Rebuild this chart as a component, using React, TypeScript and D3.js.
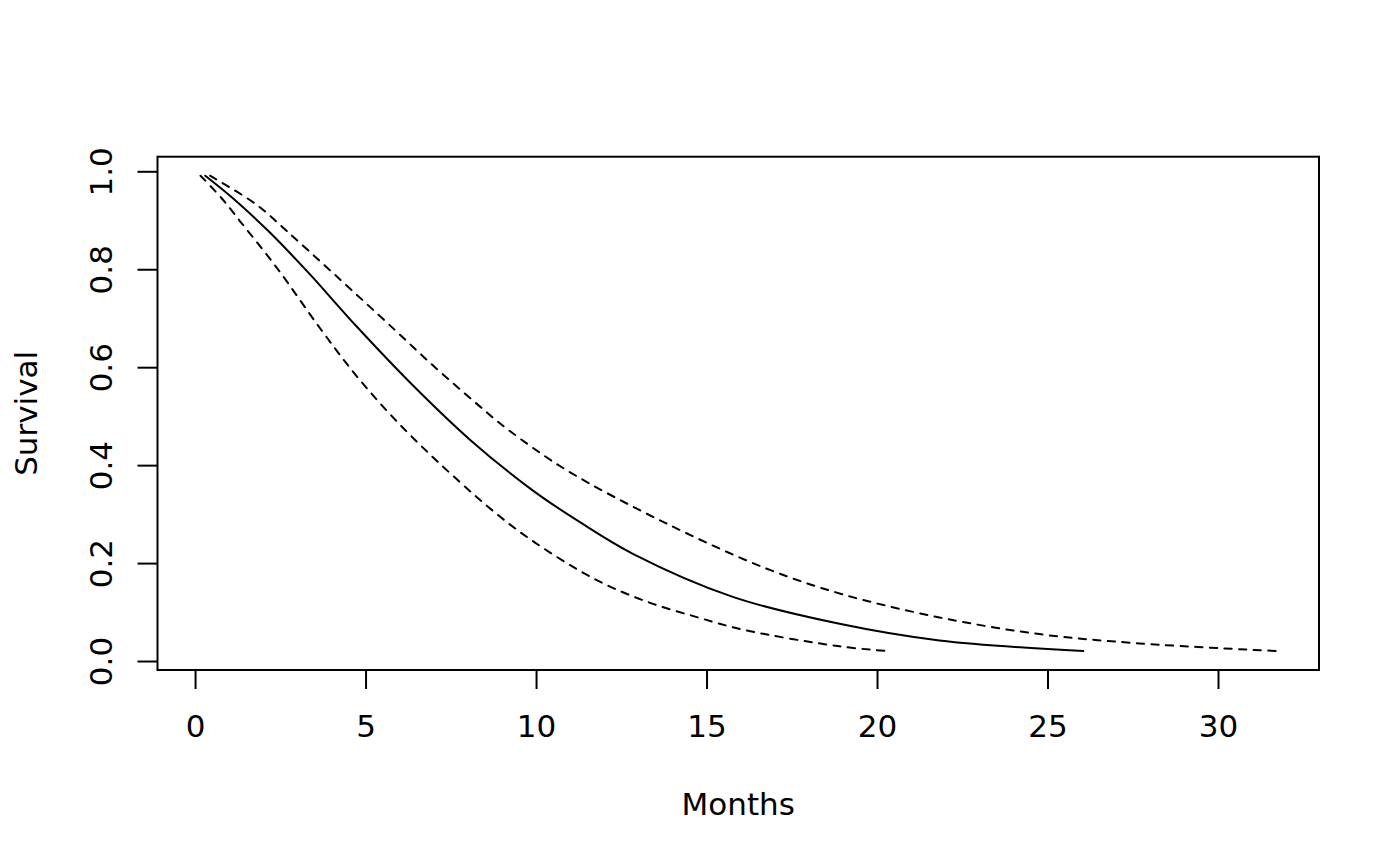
import { useEffect, useRef } from "react"
import * as d3 from "d3"

// fitted curve (solid)
const fitMonths = [0.3, 1.11, 2.15, 3.31, 4.74, 6.4, 8.06, 9.91, 11.3, 12.84, 15.77, 18.9, 21.83, 26.05]
const fitSurv = [0.991, 0.945, 0.878, 0.794, 0.683, 0.562, 0.452, 0.348, 0.283, 0.219, 0.131, 0.076, 0.042, 0.0205]

// upper confidence band (dashed, right)
const upperMonths = [0.44, 1.8, 2.69, 4.05, 5.86, 6.89, 8.35, 9.17, 10.89, 13.82, 16.75, 19.0, 21.83, 24.76, 27.69, 31.7]
const upperSurv = [0.991, 0.932, 0.878, 0.792, 0.676, 0.609, 0.52, 0.473, 0.39, 0.281, 0.189, 0.136, 0.089, 0.055, 0.036, 0.0205]

// lower confidence band (dashed, left)
const lowerMonths = [0.16, 0.78, 1.32, 2.43, 3.66, 4.83, 6.4, 8.94, 10.4, 11.87, 13.3, 14.8, 16.07, 18.9, 20.31]
const lowerSurv = [0.991, 0.945, 0.898, 0.8, 0.68, 0.574, 0.455, 0.295, 0.222, 0.162, 0.12, 0.088, 0.064, 0.03, 0.0205]

const xTicks = [0, 5, 10, 15, 20, 25, 30]
const yTicks = [0, 0.2, 0.4, 0.6, 0.8, 1.0]

const xLabel = "Months"
const yLabel = "Survival"

export default function App() {
  const svgRef = useRef<SVGSVGElement>(null)

  useEffect(() => {
    if (!svgRef.current) return
    const W = 1400
    const H = 866
    const box = { left: 157.5, right: 1319, top: 156.7, bottom: 670 }
    const font = "'DejaVu Sans', sans-serif"
    const fontSize = 31

    const svg = d3.select(svgRef.current)
    svg.selectAll("*").remove()
    svg.attr("width", W).attr("height", H)

    const allX = [...fitMonths, ...upperMonths, ...lowerMonths]
    const allY = [...fitSurv, ...upperSurv, ...lowerSurv]
    // R style 4% axis extension
    const pad = (e: [number, number]) => {
      const r = (e[1] - e[0]) * 0.04
      return [e[0] - r, e[1] + r]
    }
    const x = d3.scaleLinear().domain(pad(d3.extent(allX) as [number, number])).range([box.left, box.right])
    const y = d3.scaleLinear().domain(pad(d3.extent(allY) as [number, number])).range([box.bottom, box.top])

    svg.append("rect").attr("width", W).attr("height", H).attr("fill", "#fff")

    const line = d3
      .line<[number, number]>()
      .x((d) => x(d[0]))
      .y((d) => y(d[1]))
      .curve(d3.curveCatmullRom.alpha(0.5))

    const series = [
      { months: lowerMonths, surv: lowerSurv, dash: "7.3 7.3" },
      { months: upperMonths, surv: upperSurv, dash: "7.3 7.3" },
      { months: fitMonths, surv: fitSurv, dash: null },
    ]
    series.forEach((s) => {
      svg
        .append("path")
        .attr("d", line(s.months.map((m, i) => [m, s.surv[i]] as [number, number])))
        .attr("fill", "none")
        .attr("stroke", "#000")
        .attr("stroke-width", 2)
        .attr("stroke-linecap", "round")
        .attr("stroke-dasharray", s.dash)
    })

    // plot box
    svg
      .append("rect")
      .attr("x", box.left)
      .attr("y", box.top)
      .attr("width", box.right - box.left)
      .attr("height", box.bottom - box.top)
      .attr("fill", "none")
      .attr("stroke", "#000")
      .attr("stroke-width", 2)

    // x axis
    const gx = svg
      .append("g")
      .attr("transform", `translate(0,${box.bottom})`)
      .call(d3.axisBottom(x).tickValues(xTicks).tickSize(19).tickSizeOuter(0).tickFormat(d3.format("d")))
    gx.select(".domain").remove()
    gx.attr("font-family", font).attr("font-size", fontSize)
    gx.selectAll("line").attr("stroke", "#000").attr("stroke-width", 2)
    gx.selectAll("text").attr("y", 67).attr("dy", null).attr("fill", "#000")

    // y axis
    const gy = svg
      .append("g")
      .attr("transform", `translate(${box.left},0)`)
      .call(d3.axisLeft(y).tickValues(yTicks).tickSize(20).tickSizeOuter(0).tickFormat(d3.format(".1f")))
    gy.select(".domain").remove()
    gy.attr("font-family", font).attr("font-size", fontSize)
    gy.selectAll("line").attr("stroke", "#000").attr("stroke-width", 2)
    gy.selectAll("text")
      .attr("x", null)
      .attr("dy", null)
      .attr("fill", "#000")
      .attr("text-anchor", "middle")
      .attr("transform", `translate(${111.5 - box.left},0) rotate(-90)`)

    // axis titles
    svg
      .append("text")
      .attr("x", (box.left + box.right) / 2)
      .attr("y", 815)
      .attr("text-anchor", "middle")
      .attr("font-family", font)
      .attr("font-size", fontSize)
      .text(xLabel)

    svg
      .append("text")
      .attr("transform", `translate(37,${(box.top + box.bottom) / 2}) rotate(-90)`)
      .attr("text-anchor", "middle")
      .attr("font-family", font)
      .attr("font-size", fontSize)
      .text(yLabel)
  }, [])

  return (
    <div style={{ position: "absolute", left: 0, top: 0 }}>
      <svg ref={svgRef} style={{ display: "block" }}></svg>
    </div>
  )
}
